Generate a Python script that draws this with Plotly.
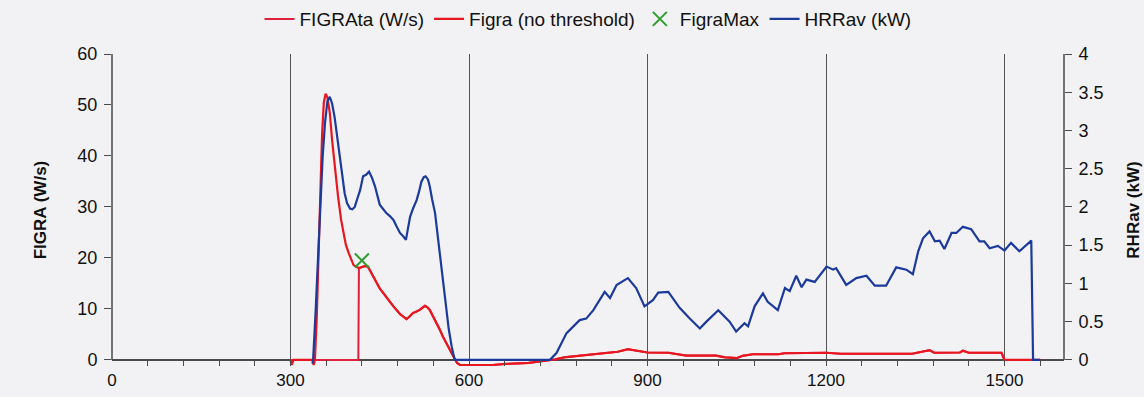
import plotly.graph_objects as go

# Time axis (s) and FIGRA without threshold (W/s)
t_figra = [300, 302, 305, 337, 339, 341, 344, 347, 350, 353, 356, 359, 362, 366, 370, 375,
           380, 385, 389, 393, 398, 402, 406, 411, 415, 420, 425, 430, 437, 445, 450,
           456, 464, 473, 484, 495, 500, 506, 512, 517, 526, 530, 534, 540, 545, 551,
           556, 562, 568, 572, 576, 580, 585, 640, 660, 700, 730, 745, 760, 790, 820,
           850, 867, 880, 900, 935, 950, 965, 1015, 1030, 1050, 1060, 1077, 1120,
           1130, 1150, 1200, 1225, 1345, 1355, 1374, 1382, 1425, 1430, 1440, 1495,
           1500, 1560]
figra_raw = [0, -1.0, 0, 0, -1.0, 0, 8, 20, 32, 44, 50.5, 52.2, 51.5, 48.5, 43, 37,
             32, 27.5, 24.8, 22.6, 20.9, 19.6, 18.6, 18.2, 18.0, 18.2, 18.4, 18.3, 16.8, 15.0, 14.0,
             13.1, 11.8, 10.5, 9.0, 8.0, 8.5, 9.2, 9.5, 9.8, 10.6, 10.3, 9.8, 8.5, 7.2, 5.9,
             4.6, 3.2, 2.0, 1.0, 0.2, -0.6, -1.0, -1.0, -0.8, -0.6, -0.2, 0.1, 0.5, 0.9, 1.3,
             1.6, 2.1, 1.8, 1.45, 1.4, 1.1, 0.85, 0.85, 0.5, 0.35, 0.8, 1.1, 1.1,
             1.3, 1.35, 1.4, 1.2, 1.2, 1.45, 1.9, 1.4, 1.45, 1.8, 1.4, 1.4,
             0, 0]

# FIGRA with thresholds applied (W/s)
t_figra_ta = [300, 414, 415, 420, 425, 430, 437, 445, 450, 456, 464, 473, 484, 495, 500,
              506, 512, 517, 526, 530, 534, 540, 545, 551, 556, 562, 568, 572, 576, 580,
              585, 640, 660, 700, 730, 745, 760, 790, 820, 850, 867, 880, 900, 935, 950,
              965, 1015, 1030, 1050, 1060, 1077, 1120, 1130, 1150, 1200, 1225, 1345,
              1355, 1374, 1382, 1425, 1430, 1440, 1495, 1500, 1560]
figra_ta = [0, 0, 18.0, 18.2, 18.4, 18.3, 16.8, 15.0, 14.0, 13.1, 11.8, 10.5, 9.0, 8.0, 8.5,
            9.2, 9.5, 9.8, 10.6, 10.3, 9.8, 8.5, 7.2, 5.9, 4.6, 3.2, 2.0, 1.0, 0.2, -0.6,
            -1.0, -1.0, -0.8, -0.6, -0.2, 0.1, 0.5, 0.9, 1.3, 1.6, 2.1, 1.8, 1.45, 1.4, 1.1,
            0.85, 0.85, 0.5, 0.35, 0.8, 1.1, 1.1, 1.3, 1.35, 1.4, 1.2, 1.2,
            1.45, 1.9, 1.4, 1.45, 1.8, 1.4, 1.4, 0, 0]

# Maximum FIGRA point
figra_max_t = [420]
figra_max_v = [19.5]

# Averaged heat release rate (kW)
t_hrr = [337, 338, 342, 346, 350, 354, 358, 362, 366, 370, 374, 378, 383, 387, 391,
         395, 400, 404, 408, 412, 417, 422, 427, 432, 437, 442, 446, 450, 456, 461,
         467, 473, 478, 484, 489, 494, 497, 501, 506, 512, 516, 520, 524, 527, 531,
         534, 538, 543, 547, 551, 556, 562, 566, 571, 576, 736,
         747, 764, 786, 797, 809, 828, 837, 848, 867, 881, 895, 909, 918, 935, 954,
         971, 988, 999, 1019, 1038, 1049, 1063, 1069, 1080, 1094, 1102, 1119, 1131,
         1139, 1150, 1159, 1167, 1181, 1201, 1212, 1217, 1234, 1251, 1268, 1282,
         1301, 1318, 1335, 1346, 1355, 1363, 1374, 1383, 1391, 1399, 1411, 1419,
         1430, 1444, 1458, 1466, 1475, 1489, 1500, 1511, 1525, 1545, 1548, 1560]
hrr = [-0.05, 0, 0.6, 1.35, 2.05, 2.65, 3.1, 3.38, 3.44, 3.35, 3.18, 2.95, 2.66, 2.4, 2.18,
       2.05, 1.98, 1.97, 2.0, 2.1, 2.22, 2.40, 2.42, 2.46, 2.38, 2.27, 2.15, 2.03, 1.97, 1.92,
       1.88, 1.83, 1.75, 1.66, 1.62, 1.57, 1.7, 1.87, 1.98, 2.09, 2.2, 2.33, 2.39, 2.40, 2.36,
       2.27, 2.1, 1.92, 1.65, 1.39, 1.0, 0.65, 0.4, 0.17, 0, 0,
       0.09, 0.35, 0.52, 0.54, 0.65, 0.89, 0.81, 0.98, 1.07, 0.94, 0.70, 0.78, 0.88, 0.89, 0.68,
       0.54, 0.41, 0.50, 0.65, 0.50, 0.37, 0.48, 0.44, 0.70, 0.87, 0.76, 0.65, 0.94,
       0.90, 1.10, 0.95, 1.05, 1.02, 1.22, 1.18, 1.20, 0.98, 1.07, 1.10, 0.97,
       0.97, 1.21, 1.18, 1.12, 1.42, 1.59, 1.68, 1.55, 1.56, 1.45, 1.66, 1.66,
       1.74, 1.71, 1.55, 1.55, 1.46, 1.49, 1.43, 1.53, 1.42, 1.56, 0, 0]

# Axis extents and tick positions
x_range = [0, 1600]
x_major = [0, 300, 600, 900, 1200, 1500]
y_low, y_high = -1.2, 60          # small headroom below zero so the dip stays visible
y2_low, y2_high = -0.08, 4

RED = "#e8161e"
BLUE = "#1c3a9c"
GREEN = "#2e9e2e"
AXIS = "#4a4a4a"
BG = "#f2f2f4"
FONT = "Liberation Sans, Arial, sans-serif"

fig = go.Figure()
fig.add_trace(go.Scatter(x=t_figra_ta, y=figra_ta, name="FIGRAta (W/s)", mode="lines",
                         line=dict(color="#e0203c", width=2)))
fig.add_trace(go.Scatter(x=t_figra, y=figra_raw, name="Figra (no threshold)", mode="lines",
                         line=dict(color=RED, width=2.2)))
fig.add_trace(go.Scatter(x=figra_max_t, y=figra_max_v, name="FigraMax", mode="markers",
                         marker=dict(symbol="x-thin", size=14, line=dict(color=GREEN, width=2))))
fig.add_trace(go.Scatter(x=t_hrr, y=hrr, name="HRRav (kW)", mode="lines", yaxis="y2",
                         line=dict(color=BLUE, width=2.2)))

# Vertical axis lines stop at zero on both sides
fig.add_shape(type="line", xref="paper", yref="y", x0=0, x1=0, y0=0, y1=y_high,
              line=dict(color=AXIS, width=1.5))
fig.add_shape(type="line", xref="paper", yref="y", x0=1, x1=1, y0=0, y1=y_high,
              line=dict(color=AXIS, width=1.5))

fig.update_layout(
    width=1144, height=397,
    margin=dict(l=112, r=80, t=54, b=31, autoexpand=False),
    paper_bgcolor=BG, plot_bgcolor=BG,
    font=dict(family=FONT, size=17, color="#111"),
    showlegend=True,
    legend=dict(orientation="h", x=0.5, xanchor="center", yref="container", y=0.952,
                yanchor="middle", font=dict(size=19),
                bgcolor="rgba(0,0,0,0)", itemwidth=30, tracegroupgap=0),
    xaxis=dict(range=x_range, tickvals=x_major, automargin=False,
               ticks="inside", ticklen=6, tickcolor=AXIS, ticklabelstandoff=2,
               minor=dict(dtick=60, tick0=0, ticks="inside", ticklen=6, tickcolor=AXIS,
                          showgrid=False),
               showgrid=True, gridcolor="#555", gridwidth=1,
               showline=False, zeroline=False, tickfont=dict(size=17)),
    yaxis=dict(range=[y_low, y_high], tickvals=[0, 10, 20, 30, 40, 50, 60], automargin=False,
               ticks="outside", ticklen=7, tickcolor=AXIS, ticklabelstandoff=3,
               showgrid=False, zeroline=True, zerolinecolor=AXIS, zerolinewidth=1.5,
               showline=False,
               title=dict(text="<b>FIGRA (W/s)</b>", font=dict(size=17), standoff=26),
               tickfont=dict(size=18)),
    yaxis2=dict(range=[y2_low, y2_high], tickvals=[0, 0.5, 1, 1.5, 2, 2.5, 3, 3.5, 4],
                overlaying="y", side="right", automargin=False,
                ticks="outside", ticklen=7, tickcolor=AXIS, ticklabelstandoff=3,
                showgrid=False, zeroline=False, showline=False,
                title=dict(text="<b>RHRav (kW)</b>", font=dict(size=17), standoff=24),
                tickfont=dict(size=18)),
    # inner half of the crossing ticks on the right-hand axis
    yaxis3=dict(range=[y2_low, y2_high], tickvals=[0, 0.5, 1, 1.5, 2, 2.5, 3, 3.5, 4],
                overlaying="y", side="right", anchor="x", automargin=False,
                ticks="inside", ticklen=7, tickcolor=AXIS, showticklabels=False,
                showgrid=False, zeroline=False, showline=False),
)

fig.write_html("out.html")
